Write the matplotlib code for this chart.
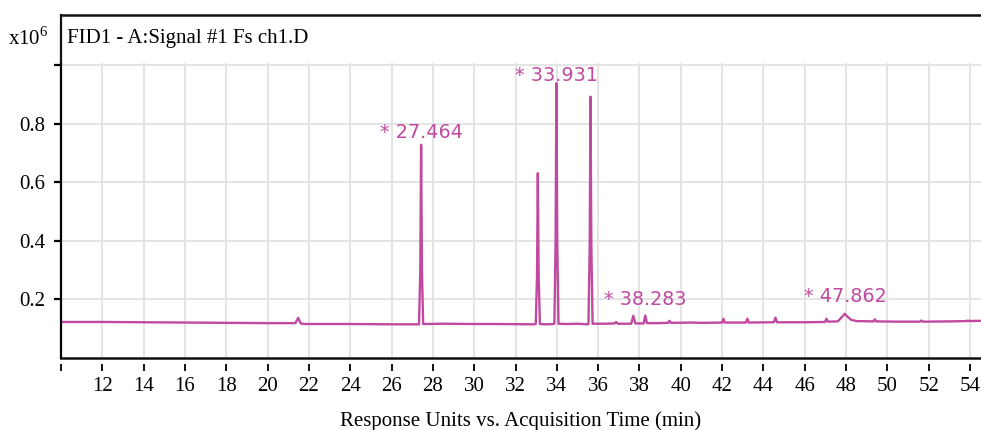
import matplotlib.pyplot as plt
from matplotlib.lines import Line2D

plt.rcParams['font.family'] = ['Liberation Serif', 'DejaVu Serif']
plt.rcParams['mathtext.fontset'] = 'custom'
plt.rcParams['mathtext.rm'] = 'Liberation Serif'

# chromatogram trace (min, x10^6 response units)
time_min = [10.0, 12.0, 14.0, 16.0, 18.0, 20.0, 21.35, 21.48, 21.6, 21.8, 24.0, 26.0,
            27.33, 27.39, 27.43, 27.47, 27.53, 28.5, 30.0, 31.0, 32.9,
            32.98, 33.04, 33.08, 33.12, 33.18, 33.5, 33.85,
            33.88, 33.94, 33.98, 34.02, 34.08, 34.5, 35.0, 35.48,
            35.53, 35.59, 35.63, 35.67, 35.73, 36.3, 36.8, 36.87, 36.95,
            37.6, 37.7, 37.8, 38.2, 38.28, 38.36, 38.9, 39.38, 39.45, 39.52,
            40.5, 41.0, 42.0, 42.06, 42.12, 43.15, 43.22, 43.29, 44.5, 44.58, 44.66,
            46.0, 46.98, 47.05, 47.12, 47.6, 47.8, 47.93, 48.05, 48.25, 48.5,
            49.32, 49.39, 49.46, 50.5, 51.58, 51.65, 51.72, 53.0, 53.85, 53.9, 53.95, 54.53]
signal = [0.123, 0.123, 0.122, 0.121, 0.120, 0.119, 0.119, 0.137, 0.118, 0.116, 0.116, 0.115,
          0.115, 0.300, 0.728, 0.300, 0.116, 0.117, 0.116, 0.116, 0.115,
          0.116, 0.280, 0.631, 0.280, 0.116, 0.115, 0.116,
          0.117, 0.400, 0.938, 0.400, 0.117, 0.116, 0.117, 0.115,
          0.116, 0.380, 0.892, 0.380, 0.117, 0.117, 0.118, 0.123, 0.117,
          0.117, 0.144, 0.118, 0.118, 0.145, 0.119, 0.119, 0.120, 0.127, 0.120,
          0.121, 0.120, 0.121, 0.134, 0.121, 0.121, 0.134, 0.121, 0.122, 0.138, 0.122,
          0.122, 0.123, 0.134, 0.124, 0.125, 0.140, 0.151, 0.142, 0.130, 0.126,
          0.125, 0.132, 0.125, 0.124, 0.124, 0.128, 0.124, 0.125, 0.126, 0.128, 0.126, 0.127]

# labelled peaks: apex time on the trace and the printed retention time
label_apex = [27.43, 33.98, 38.28, 47.93]
label_text = ['27.464', '33.931', '38.283', '47.862']
label_dy = [12, 8, 16, 17]  # pixels above apex

x_ticks = list(range(10, 55, 2))
y_ticks = [0.2, 0.4, 0.6, 0.8, 1.0]
y_ticklabels = ['0.2', '0.4', '0.6', '0.8', '']

W, H = 981, 430
fig = plt.figure(figsize=(W / 100, H / 100), dpi=100)
ax = fig.add_axes([61 / W, 1 - 358 / H, 1 - 61 / W, (358 - 62.7) / H])

trace_col = '#c04aa0'
ax.plot(time_min, signal, color=trace_col, lw=1.7)

ax.set_xlim(10, 54.53)
ax.set_ylim(0, 1.008)
ax.set_xticks(x_ticks)
ax.set_xticklabels(['' if v == 10 else str(v) for v in x_ticks])
ax.set_yticks(y_ticks)
ax.set_yticklabels(y_ticklabels)
ax.grid(True, color='#e2e2e2', lw=1.3)
ax.set_axisbelow(True)

for s in ['top', 'right']:
    ax.spines[s].set_visible(False)
ax.spines['left'].set_linewidth(1.6)
ax.spines['bottom'].set_position(('outward', 4))
ax.spines['bottom'].set_visible(False)
ax.plot([0, 1], [0, 0], transform=ax.transAxes, color='#111111', lw=1.8, clip_on=False)

ax.tick_params(axis='x', direction='out', length=5, width=1.3, pad=5, labelsize=15)
ax.tick_params(axis='y', direction='out', length=5, width=1.6, pad=6, labelsize=15)
ax.set_xlabel('Response Units vs. Acquisition Time (min)', fontsize=15, labelpad=11)

for t, txt, dy in zip(label_apex, label_text, label_dy):
    i = time_min.index(t)
    ax.annotate('* ' + txt, xy=(t, signal[i]), xytext=(-41, dy), textcoords='offset pixels',
                ha='left', va='center', fontsize=13.8, color=trace_col, family='DejaVu Sans')

# header strip above the plot
fig.add_artist(Line2D([61 / W, 1], [1 - 15 / H] * 2, color='#111111', lw=1.8))
fig.add_artist(Line2D([61 / W] * 2, [1 - 15 / H, 1 - 62.7 / H], color='#111111', lw=1.6))
fig.text(67 / W, 1 - 38 / H, 'FID1 - A:Signal #1 Fs ch1.D', fontsize=15, va='center')
fig.text(8 / W, 1 - 38 / H, r'x10$^{6}$', fontsize=15, va='center')

fig.savefig('out.png', dpi=100)
